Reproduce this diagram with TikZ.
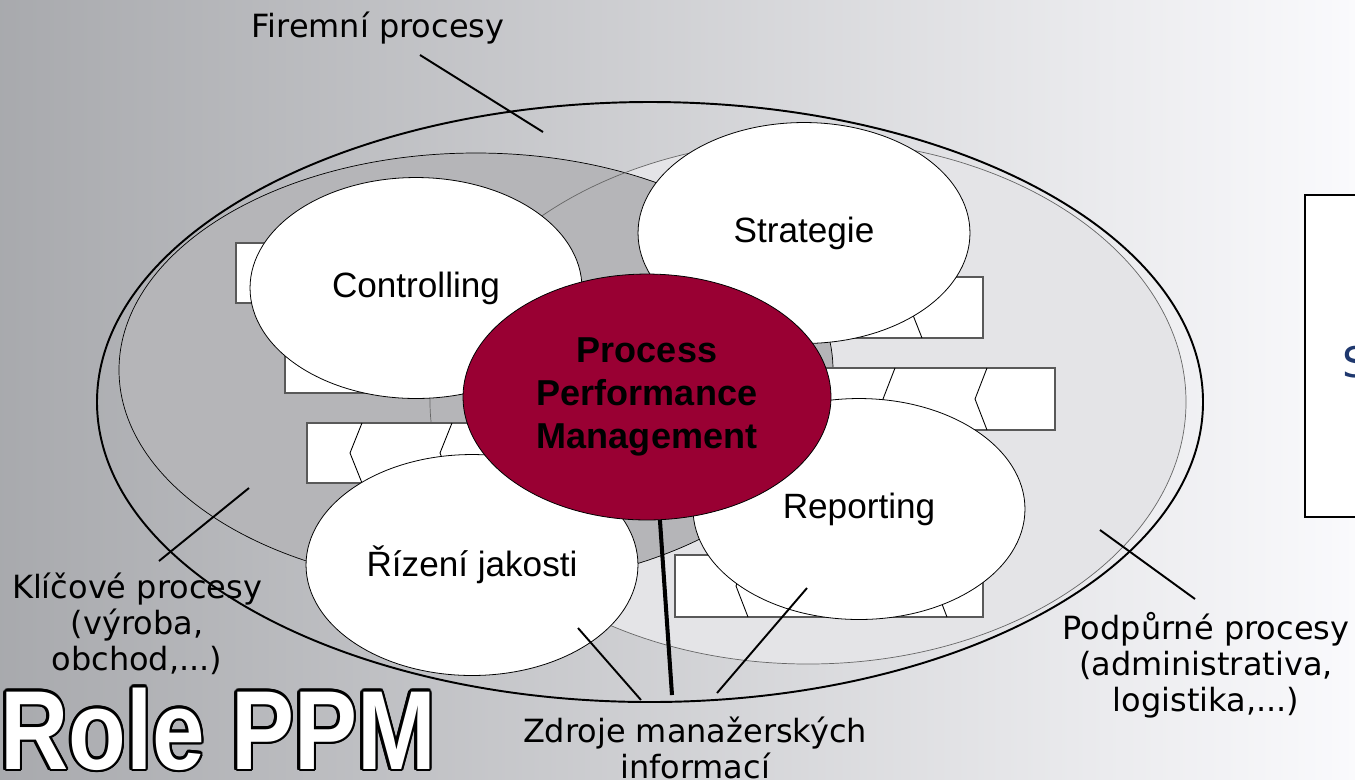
\documentclass[tikz,border=0pt]{standalone}
\usepackage{fontspec}
\usepackage{tikz}
\usetikzlibrary{shapes.geometric}
\newfontfamily\labelfont{DejaVu Sans}
\newfontfamily\bubblefont{Liberation Sans}
\definecolor{ppm red}{rgb}{0.6, 0.0, 0.2}
\definecolor{core gray}{rgb}{0.71, 0.71, 0.72}
\definecolor{support gray}{rgb}{0.895, 0.895, 0.905}
\definecolor{bg left}{rgb}{0.66, 0.665, 0.68}
\definecolor{bg right}{rgb}{0.98, 0.98, 0.99}
\definecolor{note blue}{rgb}{0.12, 0.22, 0.43}
\tikzset{
  bubble/.style={ellipse, draw=black, line width=0.45pt, fill=white, inner sep=0pt,
    minimum width=6.64cm, minimum height=4.42cm,
    font=\bubblefont\fontsize{20}{24}\selectfont},
  callout/.style={align=center, font=\labelfont\fontsize{18.2}{20.5}\selectfont},
  leader/.style={line width=1.1pt},
  chain/.style={fill=white, draw=black!65, line width=0.6pt},
  notch/.style={draw=black, line width=0.5pt},
  titletext/.style={font=\bubblefont\bfseries\fontsize{64}{70}\selectfont}
}
\begin{document}
\begin{tikzpicture}[x=0.02cm, y=-0.02cm]
			\useasboundingbox (0, 0) rectangle (1355, 779);
			\clip (0, 0) rectangle (1355, 779);
			% background
			\shade[left color=bg left, right color=bg right] (0, 0) rectangle (1355, 779);
			% part for support and core processes
			\begin{scope}
				\fill[support gray] (808, 402) ellipse [x radius=378, y radius=262];
				\filldraw[core gray, draw=black, line width=0.4pt] (476, 370) ellipse [x radius=357, y radius=217];
				\draw[black!60, line width=0.4pt] (808, 402) ellipse [x radius=378, y radius=262];
				\draw[line width=1.1pt] (650, 402) ellipse [x radius=553, y radius=300];
			\end{scope}
			% process chains behind the bubbles
			\begin{scope}
				\foreach \xa/\xb/\ya/\yb in {236/340/243/303, 285/520/333/393, 307/560/423/483,
					700/983/277/338, 780/1055/368/430, 675/983/555/617}
					\filldraw[chain] (\xa, \ya) rectangle (\xb, \yb);
				\foreach \cx/\ya/\yb in {362/423/483, 452/423/483, 922/277/338,
					895/368/430, 987/368/430, 748/555/617, 947/555/617}
					\draw[notch] (\cx, \ya) -- ({\cx-12}, {(\ya+\yb)/2}) -- (\cx, \yb);
			\end{scope}
			% bubbles
			\node[bubble] (controlling) at (416, 288) {Controlling};
			\node[bubble] (strategie) at (804, 233) {Strategie};
			\node[bubble] (reporting) at (859, 509) {Reporting};
			\node[bubble] (rizeni) at (472, 565) {Řízení jakosti};
			\node[bubble, fill=ppm red, minimum width=7.36cm, minimum height=4.92cm, align=center,
				font=\bubblefont\bfseries\fontsize{20.5}{24.5}\selectfont] (ppm) at (647, 397)
				{Process\\Performance\\Management};
			% labels
			\node[callout] (firemni) at (378, 28) {Firemní procesy};
			\node[callout] (klicove) at (137, 624) {Klíčové procesy\\(výroba,\\obchod,...)};
			\node[callout] (podpurne) at (1206, 665) {Podpůrné procesy\\(administrativa,\\logistika,...)};
			\node[callout] (zdroje) at (695, 748) {Zdroje manažerských\\informací};
			\coordinate (firemni from) at (420, 55);
			\coordinate (firemni to) at (543, 132);
			\coordinate (klicove from) at (159, 561);
			\coordinate (klicove to) at (249, 488);
			\coordinate (podpurne from) at (1195, 599);
			\coordinate (podpurne to) at (1100, 530);
			\coordinate (zdroje left) at (641, 700);
			\coordinate (zdroje mid) at (672, 695);
			\coordinate (zdroje right) at (717, 693);
			\coordinate (rizeni to) at (578, 628);
			\coordinate (reporting to) at (807, 588);
			\draw[leader] (firemni from) -- (firemni to);
			\draw[leader] (klicove from) -- (klicove to);
			\draw[leader] (podpurne from) -- (podpurne to);
			\draw[leader] (zdroje left) -- (rizeni to);
			\draw[leader] (zdroje right) -- (reporting to);
			\draw[line width=2.3pt] (zdroje mid) -- (ppm.-84);
			% side box
			\draw[line width=0.9pt, fill=white] (1305, 195) rectangle (1400, 517);
			\node[anchor=west, text=note blue, font=\labelfont\fontsize{24}{28}\selectfont] (side note) at (1336, 362) {S};
			% title with outline
			\foreach \a in {0, 22.5, ..., 337.5}
				\node[titletext, text=black, shift={(\a:0.05cm)}]
					(title \a) at (218, 729) {\scalebox{0.84}[1]{Role PPM}};
			\node[titletext, text=white] (title) at (218, 729) {\scalebox{0.84}[1]{Role PPM}};
		\end{tikzpicture}
\end{document}
